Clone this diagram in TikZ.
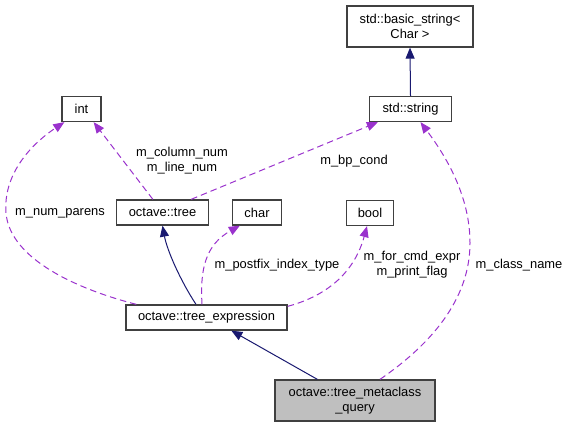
\documentclass[tikz,border=0pt]{standalone}
\usepackage{fontspec}
\setmainfont{Liberation Sans}
\usetikzlibrary{arrows.meta,calc}
\definecolor{navyc}{HTML}{191970}
\definecolor{purp}{HTML}{9A32CD}
\definecolor{boxgray}{HTML}{BFBFBF}
\definecolor{boxline}{HTML}{404040}
\begin{document}
\begin{tikzpicture}[x=1pt,y=-1pt,
  cls/.style={draw=boxline,line width=1.3pt,fill=white,inner sep=0pt,align=center,
    font=\fontsize{12.9}{15}\selectfont},
  lbl/.style={inner sep=0pt,align=center,font=\fontsize{12.9}{15}\selectfont},
  inh/.style={draw=navyc,line width=1pt,-{Triangle[length=11pt,width=9pt]},fill=none},
  use/.style={draw=purp,line width=1pt,dash pattern=on 6.5pt off 4pt,
    -{Triangle[length=11pt,width=9pt,fill=purp]}}]
\useasboundingbox (0,0) rectangle (569,427);
% classes
\node[cls,minimum width=126pt,minimum height=41pt] (bs) at (410,26.5) {std::basic\_string<\\Char >};
\node[cls,minimum width=39pt,minimum height=25pt] (int) at (81.5,109) {int};
\node[cls,minimum width=82pt,minimum height=25pt] (str) at (410.5,109) {std::string};
\node[cls,minimum width=92pt,minimum height=25pt] (tree) at (162.5,212.5) {octave::tree};
\node[cls,minimum width=49pt,minimum height=25pt] (char) at (257,212.5) {char};
\node[cls,minimum width=47pt,minimum height=25pt] (bool) at (370,213) {bool};
\node[cls,minimum width=161pt,minimum height=25pt] (texpr) at (206.5,317.5) {octave::tree\_expression};
\node[cls,fill=boxgray,minimum width=160pt,minimum height=41pt] (meta) at (355,400.5) {octave::tree\_metaclass\\\_query};
% inheritance
\draw[inh] (str.north) -- (bs.south);
\draw[inh] ($(texpr.north)+(-10.5,0)$) .. controls (180,280) and (167,250) .. (tree.south);
\draw[inh] ($(meta.north west)+(43,0)$) -- ($(texpr.south west)+(106,0)$);
% usage
\draw[use] ($(tree.north west)+(37,0)$) -- ($(int.south east)+(-8,0)$);
\draw[use] ($(texpr.north west)+(11,0)$) .. controls (80,290) and (10,260) .. (6,213)
  .. controls (3,175) and (30,145) .. ($(int.south west)+(3,0)$);
\draw[use] ($(tree.north east)+(-18,0)$) -- ($(str.south west)+(9,0)$);
\draw[use] ($(meta.north)+(25,0)$) .. controls (430,345) and (470,300) .. (470,243)
  .. controls (470,195) and (445,155) .. ($(str.south)+(10,0)$);
\draw[use] ($(texpr.north)+(-4.5,0)$) .. controls (200,270) and (205,245) .. ($(char.south west)+(8,0)$);
\draw[use] ($(texpr.north east)+(0,2)$) .. controls (330,295) and (355,270) .. ($(bool.south)+(-3,0)$);
% labels
\node[lbl] (l1) at (182,160.5) {m\_column\_num\\m\_line\_num};
\node[lbl] (l2) at (354,161) {m\_bp\_cond};
\node[lbl] (l3) at (60,213) {m\_num\_parens};
\node[lbl] (l4) at (277,265) {m\_postfix\_index\_type};
\node[lbl] (l5) at (412,264.5) {m\_for\_cmd\_expr\\m\_print\_flag};
\node[lbl] (l6) at (519,265) {m\_class\_name};
\end{tikzpicture}
\end{document}
